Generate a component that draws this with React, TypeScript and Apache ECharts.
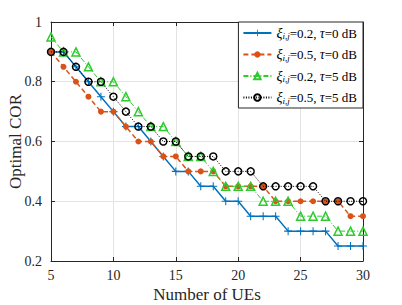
import React, { useEffect, useRef } from "react";
import * as echarts from "echarts";

const numUEs = [5, 6, 7, 8, 9, 10, 11, 12, 13, 14, 15, 16, 17, 18, 19, 20, 21, 22, 23, 24, 25, 26, 27, 28, 29, 30];
const corXi02Tau0 = [0.9, 0.9, 0.85, 0.8, 0.75, 0.7, 0.65, 0.65, 0.6, 0.55, 0.5, 0.5, 0.45, 0.45, 0.4, 0.4, 0.35, 0.35, 0.35, 0.3, 0.3, 0.3, 0.3, 0.25, 0.25, 0.25];
const corXi05Tau0 = [0.9, 0.85, 0.8, 0.75, 0.7, 0.7, 0.65, 0.6, 0.6, 0.55, 0.55, 0.5, 0.5, 0.5, 0.45, 0.45, 0.45, 0.45, 0.4, 0.4, 0.4, 0.4, 0.4, 0.4, 0.35, 0.35];
const corXi02Tau5 = [0.95, 0.9, 0.9, 0.85, 0.8, 0.8, 0.75, 0.7, 0.65, 0.65, 0.6, 0.55, 0.55, 0.5, 0.45, 0.45, 0.45, 0.4, 0.4, 0.4, 0.35, 0.35, 0.35, 0.3, 0.3, 0.3];
const corXi05Tau5 = [0.9, 0.9, 0.85, 0.8, 0.8, 0.75, 0.7, 0.65, 0.65, 0.6, 0.6, 0.55, 0.55, 0.55, 0.5, 0.5, 0.5, 0.45, 0.45, 0.45, 0.45, 0.45, 0.4, 0.4, 0.4, 0.4];

const legendXi = ["0.2", "0.5", "0.2", "0.5"];
const legendTau = ["0", "0", "5", "5"];
const seriesNames = ["s1", "s2", "s3", "s4"];

const xTicks = { min: 5, max: 30, interval: 5 };
const yTicks = { min: 0.2, max: 1, interval: 0.2 };

const FONT = "Liberation Serif";
const AXIS_COLOR = "#262626";
const PLUS = "path://M4.35,0H5.65V4.35H10V5.65H5.65V10H4.35V5.65H0V4.35H4.35Z";

export default function App() {
  const ref = useRef<HTMLDivElement>(null);
  useEffect(() => {
    if (!ref.current) return;
    const chart = echarts.init(ref.current, null, { renderer: "svg" });
    const pairs = (vals: number[]) => numUEs.map((n, i) => [n, vals[i]]);
    const axisCommon = {
      axisLine: { show: true, lineStyle: { color: AXIS_COLOR, width: 1 } },
      axisTick: { show: true, inside: true, length: 4, lineStyle: { color: AXIS_COLOR } },
    };
    chart.setOption({
      animation: false,
      backgroundColor: "#fff",
      grid: { left: 51, right: 39, top: 22, bottom: 44, containLabel: false, outerBoundsMode: "none" },
      xAxis: [
        {
          type: "value",
          ...xTicks,
          ...axisCommon,
          splitLine: { show: true, lineStyle: { color: "#e3e3e3", width: 1 } },
          axisLabel: { fontFamily: FONT, fontSize: 14, color: AXIS_COLOR, margin: 7 },
          name: "Number of UEs",
          nameLocation: "middle",
          nameGap: 24,
          nameMoveOverlap: false,
          nameTextStyle: { fontFamily: FONT, fontSize: 17, color: AXIS_COLOR, verticalAlign: "top", lineHeight: 19 },
        },
        {
          type: "value",
          position: "top",
          ...xTicks,
          ...axisCommon,
          splitLine: { show: false },
          axisLabel: { show: false },
        },
      ],
      yAxis: [
        {
          type: "value",
          ...yTicks,
          ...axisCommon,
          splitLine: { show: true, lineStyle: { color: "#e3e3e3", width: 1 } },
          axisLabel: {
            fontFamily: FONT,
            fontSize: 14,
            color: AXIS_COLOR,
            margin: 9,
            formatter: (v: number) => (Math.abs(v - 1) < 1e-9 ? "1" : v.toFixed(1)),
          },
          name: "Optimal COR",
          nameLocation: "middle",
          nameGap: 27,
          nameMoveOverlap: false,
          nameTextStyle: { fontFamily: FONT, fontSize: 17, color: AXIS_COLOR },
        },
        {
          type: "value",
          position: "right",
          ...yTicks,
          ...axisCommon,
          splitLine: { show: false },
          axisLabel: { show: false },
        },
      ],
      legend: {
        data: seriesNames,
        top: 22,
        right: 39,
        orient: "vertical",
        backgroundColor: "#fff",
        borderColor: AXIS_COLOR,
        borderWidth: 1,
        borderRadius: 0,
        padding: [4, 6, 3, 4],
        itemWidth: 28,
        itemHeight: 8,
        itemGap: 7,
        formatter: (name: string) => {
          const i = seriesNames.indexOf(name);
          return `{g|ξ}{s|i,j}{v|=${legendXi[i]}, }{g|τ}{v|=${legendTau[i]} dB}`;
        },
        textStyle: {
          fontFamily: FONT,
          fontSize: 13,
          color: "#000",
          rich: {
            v: { fontFamily: FONT, fontSize: 13, color: "#000", lineHeight: 15 },
            g: { fontFamily: FONT, fontSize: 14, fontStyle: "italic", color: "#000", lineHeight: 15 },
            s: { fontFamily: FONT, fontSize: 9, fontStyle: "italic", color: "#000", verticalAlign: "bottom" },
          },
        },
      },
      series: [
        {
          name: "s1",
          type: "line",
          data: pairs(corXi02Tau0),
          symbol: PLUS,
          symbolSize: 8,
          lineStyle: { color: "#0072BD", width: 1.5, type: "solid" },
          itemStyle: { color: "#0072BD" },
          z: 2,
        },
        {
          name: "s2",
          type: "line",
          data: pairs(corXi05Tau0),
          symbol: "circle",
          symbolSize: 6,
          lineStyle: { color: "#D95319", width: 1.5, type: [5, 3] },
          itemStyle: { color: "#D95319", borderWidth: 0 },
          z: 3,
        },
        {
          name: "s3",
          type: "line",
          data: pairs(corXi02Tau5),
          symbol: "triangle",
          symbolSize: 8,
          lineStyle: { color: "#2DCB2D", width: 1, type: [5, 2, 1, 2] },
          itemStyle: { color: "transparent", borderColor: "#2DCB2D", borderWidth: 1.5 },
          z: 4,
        },
        {
          name: "s4",
          type: "line",
          data: pairs(corXi05Tau5),
          symbol: "circle",
          symbolSize: 7,
          lineStyle: { color: "#000", width: 1, type: [1, 1.5] },
          itemStyle: { color: "transparent", borderColor: "#000", borderWidth: 1.5 },
          z: 5,
        },
      ],
    });
    return () => chart.dispose();
  }, []);
  return <div ref={ref} style={{ position: "fixed", left: 0, top: 0, width: 402, height: 305 }} />;
}
